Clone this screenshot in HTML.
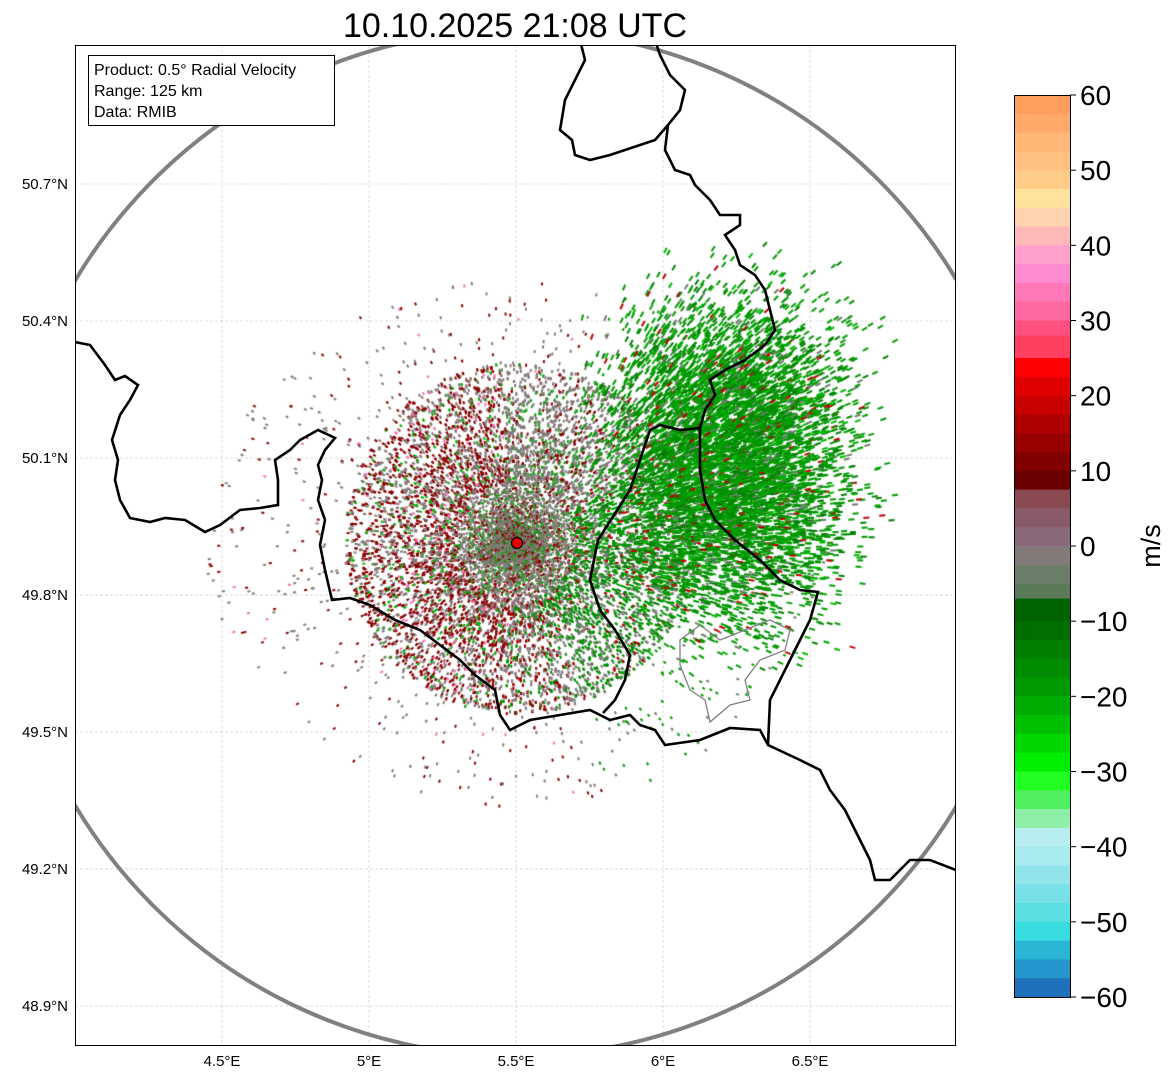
<!DOCTYPE html>
<html><head><meta charset="utf-8"><style>
body{margin:0;background:#fff;width:1171px;height:1081px;overflow:hidden;font-family:"Liberation Sans",sans-serif}
</style></head><body>
<svg width="1171" height="1081" xmlns="http://www.w3.org/2000/svg" style="position:absolute;left:0;top:0">
<text x="515" y="37" font-size="34" text-anchor="middle" font-family="Liberation Sans">10.10.2025 21:08 UTC</text>
<defs><clipPath id="mapclip"><rect x="75" y="45" width="881" height="1001"/></clipPath></defs>
<g id="grid"></g>
<foreignObject x="75" y="45" width="881" height="1001" clip-path="url(#mapclip)">
<canvas xmlns="http://www.w3.org/1999/xhtml" id="echo" width="881" height="1001"></canvas>
</foreignObject>
<g clip-path="url(#mapclip)">
<circle cx="516" cy="543" r="513" fill="none" stroke="#808080" stroke-width="4"/>
<path fill="none" stroke="#000" stroke-width="2.6" d="M75,342 L90,345 105,365 115,380 125,376 138,385 130,400 120,415 112,440 118,460 115,480 120,500 130,518 150,522 165,518 185,520 205,532 220,525 240,510 260,508 278,505 278,480 275,460 290,450 300,440 318,430 335,438 325,450 318,465 322,480 318,500 325,520 320,545 325,570 332,600 350,598 370,605 395,620 420,630 440,645 460,660 475,675 495,690 500,715 510,730 530,720 560,715 590,710 610,720 630,715 640,725 655,730 665,745 700,740 730,728 760,730 768,745 800,760 820,770 830,790 845,810 855,830 870,860 875,880 890,880 910,860 930,860 956,870"/>
<path fill="none" stroke="#000" stroke-width="2.6" d="M603,713 L615,700 625,680 630,655 615,630 600,610 590,580 598,540 612,518 630,490 640,460 650,430 660,425 680,430 700,428 700,470 705,500 715,520 735,540 760,560 780,580 800,590 818,592 810,620 800,640 790,660 780,680 770,700 768,745"/>
<path fill="none" stroke="#000" stroke-width="2.6" d="M700,428 L705,410 715,395 710,380 725,370 745,360 765,345 775,330 770,310 765,290 755,275 740,265 735,250 725,235 740,225 740,215 720,215 710,200 695,185 690,175 675,170 665,150 668,125 680,110 685,90 670,75 660,55 655,40"/>
<path fill="none" stroke="#000" stroke-width="2.6" d="M580,40 L585,60 575,80 565,100 560,130 572,140 575,155 590,160 610,155 640,145 655,140 668,125"/>
<path fill="none" stroke="#808080" stroke-width="1.3" d="M680,640 L700,625 720,640 745,630 770,620 790,630 785,650 760,660 745,680 750,700 730,705 710,722 705,700 690,690 680,665 Z"/>
<circle cx="517" cy="543" r="5.5" fill="#e00000" stroke="#000" stroke-width="1.2"/>
</g>
<rect x="75.5" y="45.5" width="880" height="1000" fill="none" stroke="#000" stroke-width="1"/>
<g id="ticks" font-size="15" font-family="Liberation Sans"></g>
<g>
<rect x="88.5" y="55.5" width="246" height="70" fill="#fff" stroke="#000" stroke-width="1"/>
<text x="94" y="75" font-size="16">Product: 0.5° Radial Velocity</text>
<text x="94" y="96" font-size="16">Range: 125 km</text>
<text x="94" y="117" font-size="16">Data: RMIB</text>
</g>
<g id="cbar"></g>
<text x="1160" y="546" font-size="27" text-anchor="middle" transform="rotate(-90 1160 546)">m/s</text>
</svg>
<script>
const lonTicks=[4.5,5,5.5,6,6.5];
const latTicks=[50.7,50.4,50.1,49.8,49.5,49.2,48.9];
const lonLabels=["4.5°E","5°E","5.5°E","6°E","6.5°E"];
const latLabels=["50.7°N","50.4°N","50.1°N","49.8°N","49.5°N","49.2°N","48.9°N"];
const cbTicks=[60,50,40,30,20,10,0,-10,-20,-30,-40,-50,-60];
const cbBandTops=[60,57.5,55,52.5,50,47.5,45,42.5,40,37.5,35,32.5,30,28,25,22.5,20,17.5,15,12.5,10,7.5,5,2.5,0,-2.5,-5,-7,-10,-12.5,-15,-17.5,-20,-22.5,-25,-27.5,-30,-32.5,-35,-37.5,-40,-42.5,-45,-47.5,-50,-52.5,-55,-57.5];
const cbColors=["#ff9e5c","#ffa96a","#ffb676","#ffc080","#ffcc88","#ffe39c","#ffd2b0","#ffb8b8","#ffa0cc","#ff8ad0","#ff78b8","#ff68a0","#ff5080","#ff4060","#ff0000","#e00000","#c80000","#b00000","#980000","#800000","#6a0000","#8a4a52","#8a5a68","#8a6a78","#857a7a","#6a7e6a","#5a7a58","#006400","#006e00","#007e00","#008c00","#009a00","#00ac00","#00c000","#00d800","#00ee00","#22ff22","#50f060","#8ef0a8","#b8eef0","#a8eaee","#90e4ea","#78e0e8","#5cdde2","#38dde0","#2ab6d4","#2596cc","#2070bc"];
const NS="http://www.w3.org/2000/svg";
const X=lon=>222+(lon-4.5)*294;
const Y=lat=>184+(50.7-lat)*456.7;
const CB=v=>95+(60-v)/120*902;
function mk(t,a,p){const e=document.createElementNS(NS,t);for(const k in a)e.setAttribute(k,a[k]);p.appendChild(e);return e;}
const grid=document.getElementById('grid'),ticks=document.getElementById('ticks'),cbar=document.getElementById('cbar');
lonTicks.forEach((v,i)=>{
 const l=mk('line',{x1:X(v),x2:X(v),y1:45,y2:1046,stroke:'#c8c8c8','stroke-width':0.6,'stroke-dasharray':'3,2'},grid);
 
 
 const t=mk('text',{x:X(v),y:1066,'text-anchor':'middle'},ticks);t.textContent=lonLabels[i];
 
 
});
latTicks.forEach((v,i)=>{
 const l=mk('line',{x1:75,x2:956,y1:Y(v),y2:Y(v),stroke:'#c8c8c8','stroke-width':0.6,'stroke-dasharray':'3,2'},grid);
 
 
 const t=mk('text',{x:68,y:Y(v)+5,'text-anchor':'end'},ticks);t.textContent=latLabels[i];
 
 
});
cbBandTops.forEach((v,i)=>{
 const bot=i<cbBandTops.length-1?cbBandTops[i+1]:-60;
 const r=mk('rect',{x:1014,y:CB(v),width:56,height:CB(bot)-CB(v)+0.5,fill:cbColors[i]},cbar);
 
 
});
mk('rect',{x:1014.5,y:95.5,width:56,height:902,fill:'none',stroke:'#000','stroke-width':1},cbar);
cbTicks.forEach(v=>{
 mk('line',{x1:1070,x2:1076,y1:CB(v),y2:CB(v),stroke:'#000'},cbar);
 const t=mk('text',{x:1080,y:CB(v)+10,'font-size':28,'font-family':'Liberation Sans'},cbar);
 t.textContent=(v<0?'\u2212'+(-v):String(v));
 
 
});
// echo texture (seeded speckle, visual only)
const c=document.getElementById('echo').getContext('2d');
let s=12345;const rnd=()=>{s=(s*1103515245+12345)&0x7fffffff;return s/0x7fffffff;};
const g=()=> (rnd()+rnd()+rnd()-1.5)/1.5;
const cx=516-75,cy=543-45;
function dot(x,y,col,len,wid){const ang=Math.atan2(y-cy,x-cx);c.fillStyle=col;c.save();c.translate(x,y);c.rotate(ang);c.fillRect(-len/2,-wid/2,len,wid);c.restore();}
// core
for(let i=0;i<20000;i++){
 const a=rnd()*Math.PI*2,r=Math.pow(rnd(),1.2)*180;
 const dx=Math.cos(a),dy=Math.sin(a);
 const x=cx+dx*r*(dx<0?0.95:1.0),y=cy+dy*r*(dy<0?1.0:0.95);
 const q=rnd();let col;
 if(r<60){col=q<0.6?'#857a7a':q<0.78?'#8b0000':'#1a9a1a';}
 else if(dx<-0.1){col=q<0.45?'#8b0000':q<0.85?'#857a7a':q<0.95?'#10b010':'#ff70b0';}
 else if(dy<-0.5){col=q<0.65?'#857a7a':q<0.85?'#20a020':'#8b0000';}
 else if(dx>0.4){col=q<0.5?'#009000':q<0.75?'#6a7e6a':q<0.92?'#857a7a':'#b00000';}
 else {col=q<0.5?'#857a7a':q<0.72?'#009000':'#9a0000';}
 dot(x,y,col,r<60?2:3,2);
}
// sparse outer speckles
for(let i=0;i<700;i++){
 const a=rnd()*Math.PI*2,r=180+rnd()*130;
 const x=cx+Math.cos(a)*r,y=cy+Math.sin(a)*r*0.85;
 const q=rnd();const col=Math.cos(a)>0.3?(q<0.7?'#009900':'#6a7e6a'):(q<0.6?'#857a7a':q<0.9?'#8b0000':'#ff70b0');
 dot(x,y,col,3,2);
}
// east green field
for(let i=0;i<7000;i++){
 const gx=cx+215+g()*170, gy=cy-80+g()*230;
 const q=rnd();const col=q<0.6?'#009a00':q<0.82?'#008000':q<0.9?'#00b800':q<0.96?'#6a7e6a':'#c00000';
 dot(gx,gy,col,6,2);
}
</script>
</body></html>
